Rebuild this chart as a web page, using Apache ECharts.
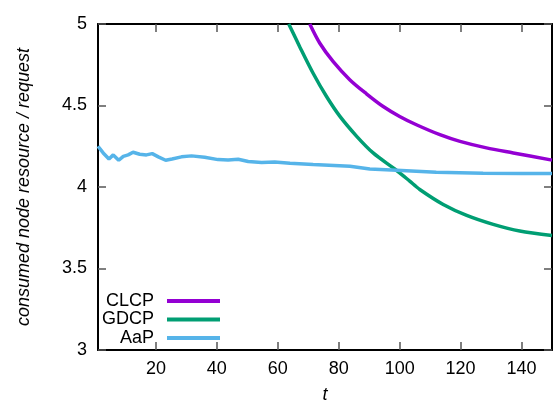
<!DOCTYPE html>
<html><head><meta charset="utf-8">
<script src="https://cdn.jsdelivr.net/npm/echarts@6/dist/echarts.min.js"></script>
<style>html,body{margin:0;padding:0;background:#fff}#c{width:553px;height:409px}</style>
</head><body><div id="c"></div>
<script>
const xTicks = [20, 40, 60, 80, 100, 120, 140];
const yTicks = [3, 3.5, 4, 4.5, 5];

const aapT = [1, 2.7, 4.6, 6, 7.8, 9.3, 10.9, 12.5, 14.7, 16.9, 18.8, 20.8, 23.2, 25.3, 28.4, 31.7, 36, 40.4, 43.7, 47, 50.3, 54.7, 59, 64, 71.6, 83.7, 90.2, 99, 112, 127.4, 140, 150];
const aapV = [4.25, 4.209, 4.172, 4.197, 4.164, 4.188, 4.197, 4.213, 4.201, 4.197, 4.205, 4.185, 4.164, 4.172, 4.185, 4.191, 4.183, 4.168, 4.166, 4.17, 4.156, 4.15, 4.154, 4.146, 4.138, 4.127, 4.111, 4.103, 4.091, 4.085, 4.083, 4.083];

const clcpT = [70.5, 73.8, 78.2, 83.7, 89.1, 94.6, 100, 105.5, 113.2, 119.8, 128.5, 137.3, 150];
const clcpV = [5.0, 4.882, 4.769, 4.657, 4.572, 4.494, 4.433, 4.382, 4.321, 4.28, 4.24, 4.209, 4.165];

const gdcpT = [63.6, 67.2, 71.6, 76, 80.4, 85.9, 91.3, 97.9, 100, 103.3, 106.6, 114.3, 122, 130.7, 139.4, 150];
const gdcpV = [5.0, 4.861, 4.698, 4.555, 4.433, 4.311, 4.209, 4.117, 4.087, 4.036, 3.985, 3.893, 3.826, 3.771, 3.73, 3.703];

const zip = (t, v) => t.map((x, i) => [x, v[i]]);
const FONT = 'Liberation Sans';
const tickStyle = {show: true, inside: true, length: 8, lineStyle: {color: '#555', width: 1.5}};
const lineAx = {show: true, onZero: false, lineStyle: {color: '#000', width: 2}};

const chart = echarts.init(document.getElementById('c'));
chart.setOption({
  animation: false,
  textStyle: {fontFamily: FONT},
  grid: {left: 98, right: 1, top: 24, bottom: 58, containLabel: false},
  legend: {
    orient: 'vertical', left: 94, top: 287, align: 'right', itemGap: 0.5,
    itemWidth: 53, itemHeight: 4, icon: 'rect',
    textStyle: {fontFamily: FONT, fontSize: 18, color: '#000', width: 55, align: 'right', lineHeight: 18, padding: [0, 8, 0, 0]},
    data: ['CLCP', 'GDCP', 'AaP']
  },
  xAxis: [{
    type: 'value', min: 1, max: 150, position: 'bottom',
    name: 't', nameLocation: 'middle', nameGap: 36,
    nameTextStyle: {fontFamily: FONT, fontSize: 18, fontStyle: 'italic', color: '#000'},
    axisLine: lineAx,
    axisTick: Object.assign({customValues: xTicks}, tickStyle),
    axisLabel: {customValues: xTicks, fontFamily: FONT, fontSize: 18, color: '#000', margin: 10},
    splitLine: {show: false}
  }, {
    type: 'value', min: 1, max: 150, position: 'top',
    axisLine: lineAx,
    axisTick: Object.assign({customValues: xTicks}, tickStyle),
    axisLabel: {show: false},
    splitLine: {show: false}
  }],
  yAxis: [{
    type: 'value', min: 3, max: 5, interval: 0.5, position: 'left',
    name: 'consumed node resource / request', nameLocation: 'middle', nameGap: 65,
    nameTextStyle: {fontFamily: FONT, fontSize: 18, fontStyle: 'italic', color: '#000'},
    axisLine: lineAx,
    axisTick: tickStyle,
    axisLabel: {fontFamily: FONT, fontSize: 18, color: '#000', margin: 11},
    splitLine: {show: false}
  }, {
    type: 'value', min: 3, max: 5, interval: 0.5, position: 'right',
    axisLine: lineAx,
    axisTick: tickStyle,
    axisLabel: {show: false},
    splitLine: {show: false}
  }],
  series: [
    {name: 'CLCP', type: 'line', data: zip(clcpT, clcpV), showSymbol: false, smooth: 0.3, clip: true,
     lineStyle: {color: '#9400d3', width: 3.5}, itemStyle: {color: '#9400d3'}},
    {name: 'GDCP', type: 'line', data: zip(gdcpT, gdcpV), showSymbol: false, smooth: 0.3, clip: true,
     lineStyle: {color: '#009e73', width: 3.5}, itemStyle: {color: '#009e73'}},
    {name: 'AaP', type: 'line', data: zip(aapT, aapV), showSymbol: false, clip: true,
     lineStyle: {color: '#56b4e9', width: 3.5}, itemStyle: {color: '#56b4e9'}}
  ]
});
</script></body></html>
